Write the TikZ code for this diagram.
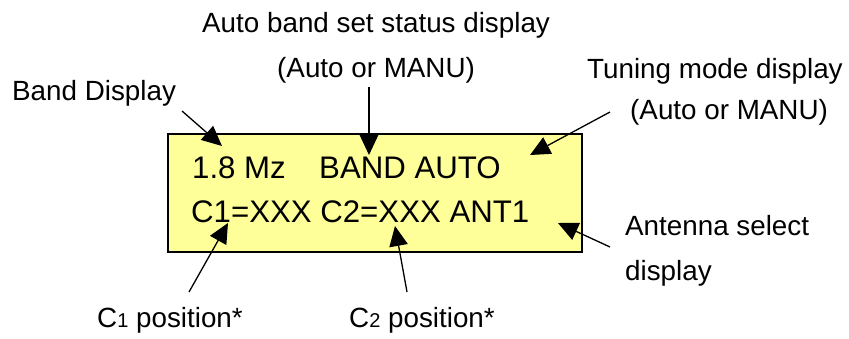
\documentclass[tikz,border=0pt]{standalone}
\usepackage{fontspec}
\setmainfont{Liberation Sans}
\usetikzlibrary{arrows.meta}
\definecolor{lcdyellow}{HTML}{FFFF99}
\tikzset{
  lbl/.style={anchor=base west, inner sep=0pt, font=\fontsize{27.8}{30}\selectfont},
  lcd/.style={anchor=base west, inner sep=0pt, font=\fontsize{31.2}{34}\selectfont},
  ptr/.style={line width=1.3pt, -{Triangle[length=20pt,width=18.5pt]}},
}
\begin{document}
\begin{tikzpicture}[x=1pt,y=-1pt]
\useasboundingbox (0,0) rectangle (849,338);
% display box
\draw[fill=lcdyellow, line width=1.8pt] (168,134) rectangle (582,252);
\node[lcd] (l1a) at (192,178) {1.8 Mz};
\node[lcd] (l1b) at (319,178) {BAND AUTO};
\node[lcd] (l2) at (191,222) {C1=XXX C2=XXX ANT1};
% labels
\node[lbl] (band) at (12,100) {Band Display};
\node[lbl] (abs1) at (202,32) {Auto band set status display};
\node[lbl] (abs2) at (277,77) {(Auto or MANU)};
\node[lbl] (tun1) at (587,78) {Tuning mode display};
\node[lbl] (tun2) at (630,119) {(Auto or MANU)};
\node[lbl] (ant1) at (625,235) {Antenna select};
\node[lbl] (ant2) at (625,280) {display};
\node[lbl] (c1) at (97,327) {C{\fontsize{20}{22}\selectfont 1} position*};
\node[lbl] (c2) at (349,327) {C{\fontsize{20}{22}\selectfont 2} position*};
% arrow ends
\coordinate (bandS) at (182,111);   \coordinate (bandT) at (222,146);
\coordinate (absS) at (369,87);     \coordinate (absT) at (369,155);
\coordinate (tunS) at (610,112);    \coordinate (tunT) at (530,155);
\coordinate (antS) at (610,247);    \coordinate (antT) at (558,223);
\coordinate (c1S) at (189,292);     \coordinate (c1T) at (228,223);
\coordinate (c2S) at (407,292);     \coordinate (c2T) at (395,226);
\draw[ptr] (bandS) -- (bandT);
\draw[ptr] (absS) -- (absT);
\draw[ptr] (tunS) -- (tunT);
\draw[ptr] (antS) -- (antT);
\draw[ptr] (c1S) -- (c1T);
\draw[ptr] (c2S) -- (c2T);
\end{tikzpicture}
\end{document}
